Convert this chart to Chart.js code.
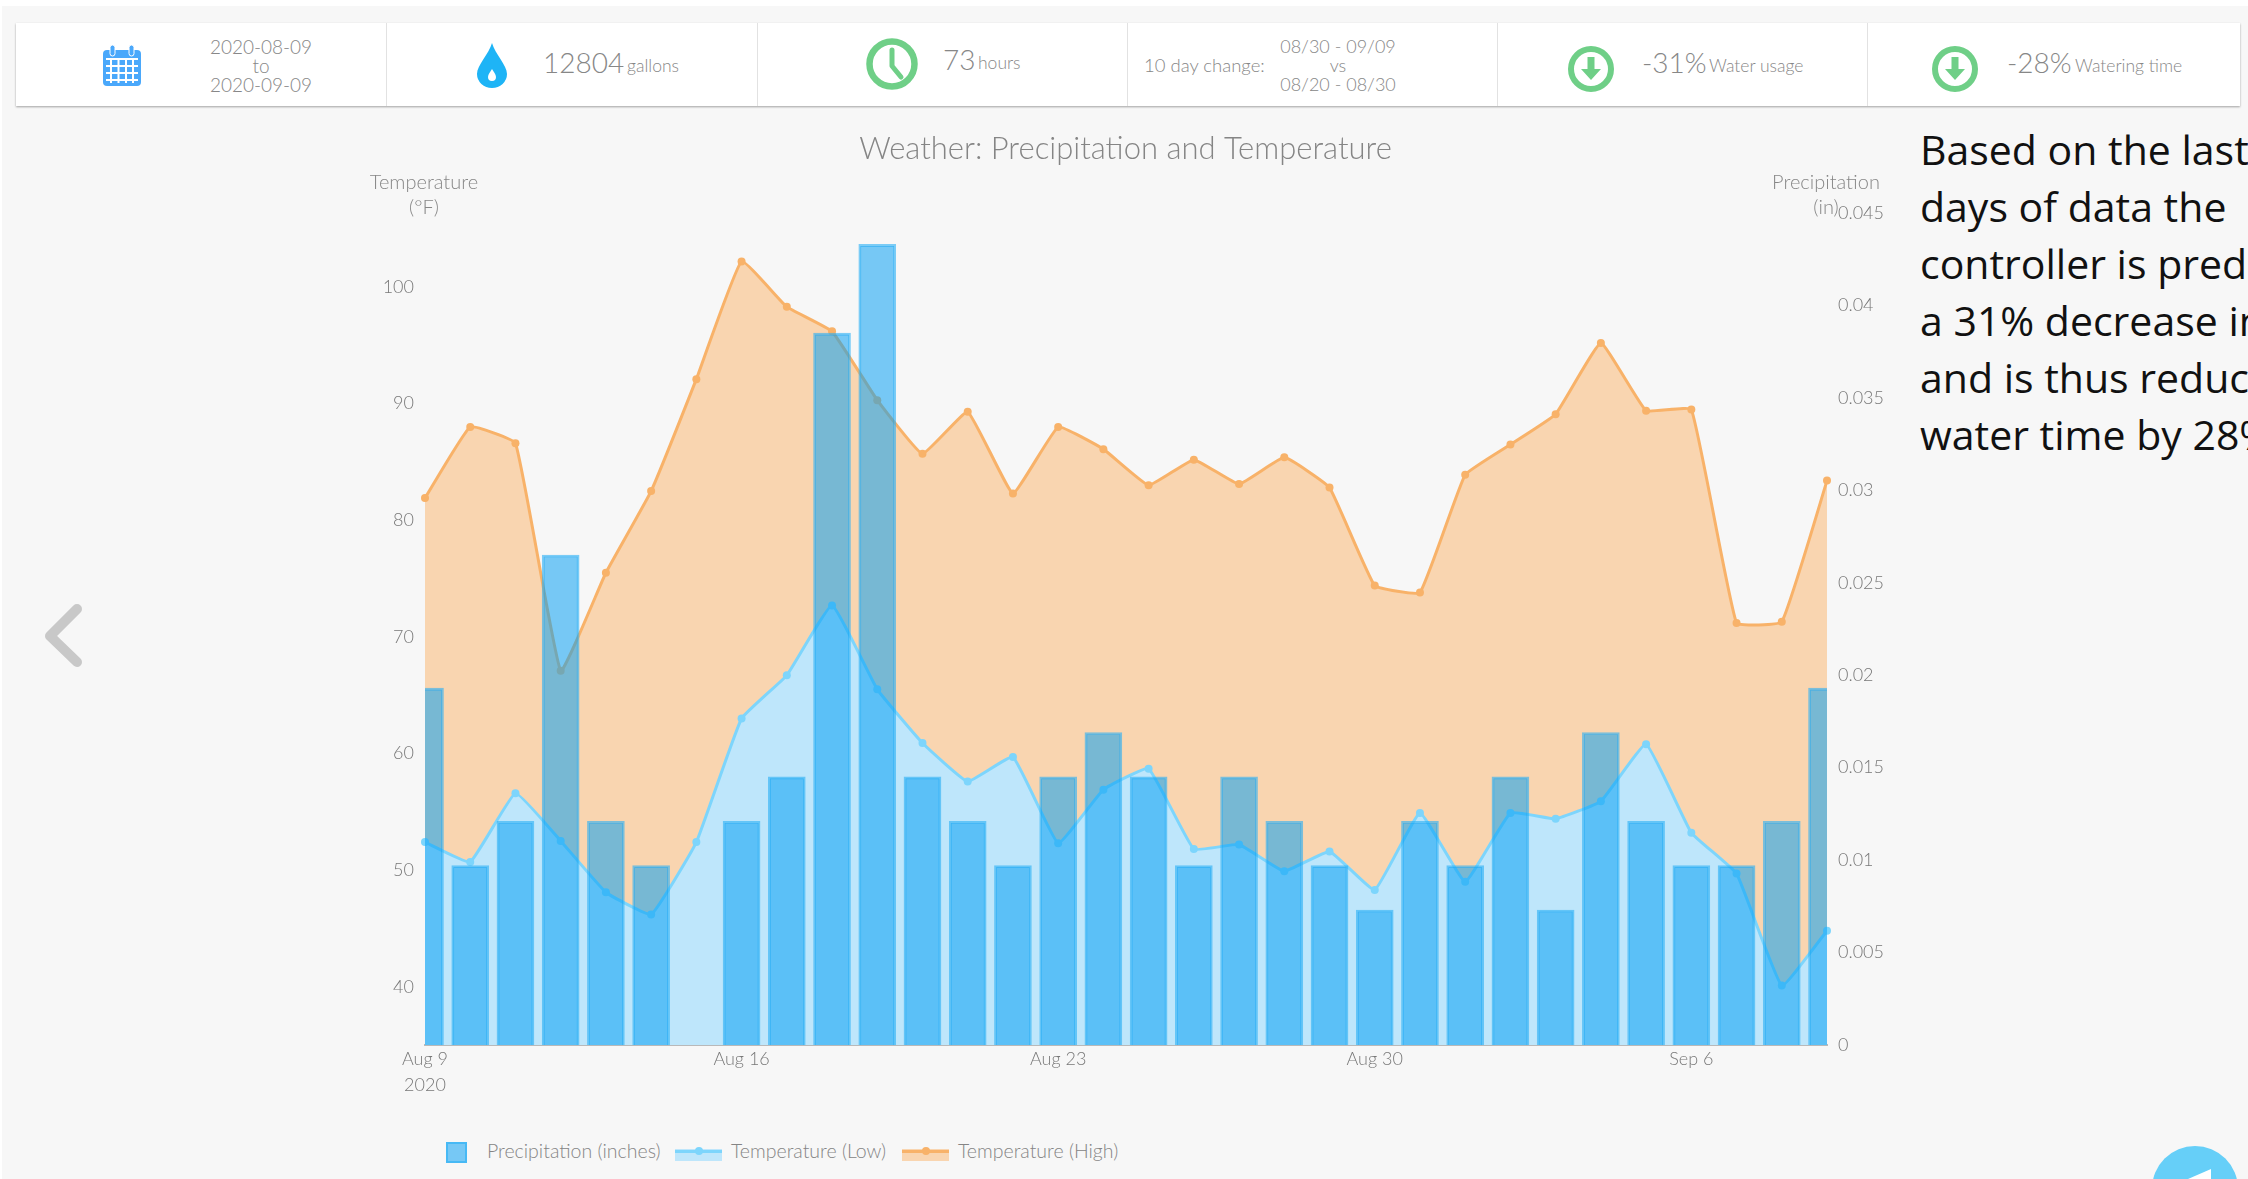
<!DOCTYPE html>
<html>
<head>
<meta charset="utf-8">
<title>Weather: Precipitation and Temperature</title>
<script src="https://cdn.jsdelivr.net/npm/chart.js@4"></script>
<style>
  html, body { margin: 0; padding: 0; background: #fff; overflow: hidden; }
  #page { position: absolute; left: 2px; top: 6px; width: 2246px; height: 1173px; background: #f7f7f7; overflow: hidden; }
  #stage { position: absolute; left: -2px; top: -6px; width: 2248px; height: 1179px; font-family: Lato, sans-serif; color: #878787; font-weight: 300; }
  #stage > * { position: absolute; }
  .card { left: 16px; top: 23px; width: 2224px; height: 83px; background: #fff; box-shadow: 0 1px 2px rgba(0,0,0,.35); }
  .sep { top: 23px; width: 1px; height: 83px; background: #e2e2e2; }
  .t { white-space: nowrap; line-height: 1; transform: translateY(-50%); }
  .c { transform: translate(-50%, -50%); text-align: center; }
  .big { font-size: 28px; }
  .small { font-size: 17.500px; }
  .mid { font-size: 18px; }
  .cap { font-size: 20px; line-height: 25px; text-align: center; white-space: nowrap; transform: translateX(-50%); }
  .note { left: 1920px; font-family: "Open Sans", sans-serif; font-weight: 400; font-size: 41px; line-height: 57px; color: #111; white-space: nowrap; }
  #chart { left: 340px; top: 120px; }
  .lg { font-size: 19.500px; line-height: 1; white-space: nowrap; color: #858585; transform: translateY(-50%); top: 1151px; }
</style>
</head>
<body>
<div id="page"><div id="stage">
  <div class="card"></div>
  <div class="sep" style="left:386px"></div>
  <div class="sep" style="left:757px"></div>
  <div class="sep" style="left:1127px"></div>
  <div class="sep" style="left:1497px"></div>
  <div class="sep" style="left:1867px"></div>

  <svg style="left:102px;top:44px" width="40" height="43" viewBox="0 0 40 43">
    <rect x="1" y="6" width="38" height="36" rx="4" fill="#4aa8fb"/>
    <rect x="8" y="1" width="5" height="11" rx="2.5" fill="#4aa8fb" stroke="#fff" stroke-width="1"/>
    <rect x="27" y="1" width="5" height="11" rx="2.5" fill="#4aa8fb" stroke="#fff" stroke-width="1"/>
    <path d="M4 15h32M4 22h32M4 29h32M4 36h32M9 15v24M16.500 15v24M24 15v24M31 15v24" stroke="#fff" stroke-width="2"/>
  </svg>
  <div class="t c mid" style="left:261px;top:46px;font-size:19px">2020-08-09</div>
  <div class="t c mid" style="left:261px;top:65px;font-size:19px">to</div>
  <div class="t c mid" style="left:261px;top:84px;font-size:19px">2020-09-09</div>

  <svg style="left:476px;top:43px" width="32" height="45" viewBox="0 0 32 45">
    <path d="M16 0C13 11 1 22 1 31a15 14 0 0 0 30 0C31 22 19 11 16 0z" fill="#1eb4f6"/>
    <path d="M16 26c-1.500 3-4 5-4 8a4 4 0 0 0 8 0c0-3-2.500-5-4-8z" fill="#fff"/>
  </svg>
  <div class="t big" style="left:543px;top:62px">12804</div>
  <div class="t small" style="left:627px;top:66px">gallons</div>

  <svg style="left:866px;top:38px" width="52" height="52" viewBox="0 0 52 52">
    <circle cx="26" cy="26" r="22.500" fill="none" stroke="#6fcf87" stroke-width="6.500"/>
    <path d="M26 12v16l9 11" fill="none" stroke="#6fcf87" stroke-width="5" stroke-linecap="round" stroke-linejoin="round"/>
  </svg>
  <div class="t big" style="left:943px;top:59px">73</div>
  <div class="t small" style="left:978px;top:63px">hours</div>

  <div class="t mid" style="left:1144px;top:65px;font-size:18.500px">10 day change:</div>
  <div class="t c mid" style="left:1338px;top:46px">08/30 - 09/09</div>
  <div class="t c mid" style="left:1338px;top:65px">vs</div>
  <div class="t c mid" style="left:1338px;top:84px">08/20 - 08/30</div>

  <svg style="left:1568px;top:46px" width="46" height="46" viewBox="0 0 46 46">
    <circle cx="23" cy="23" r="20" fill="#fff" stroke="#6fcf87" stroke-width="6"/>
    <circle cx="23" cy="23" r="15" fill="#fff"/>
    <path d="M19.500 11h7v12h6.500L23 34 13 23h6.500z" fill="#6fcf87"/>
  </svg>
  <div class="t big" style="left:1642px;top:62px">-31%</div>
  <div class="t small" style="left:1709px;top:66px">Water usage</div>

  <svg style="left:1932px;top:46px" width="46" height="46" viewBox="0 0 46 46">
    <circle cx="23" cy="23" r="20" fill="#fff" stroke="#6fcf87" stroke-width="6"/>
    <path d="M19.500 11h7v12h6.500L23 34 13 23h6.500z" fill="#6fcf87"/>
  </svg>
  <div class="t big" style="left:2007px;top:62px">-28%</div>
  <div class="t small" style="left:2075px;top:66px">Watering time</div>

  <svg style="left:40px;top:600px" width="50" height="72" viewBox="0 0 50 72">
    <path d="M37 9L10 36l27 26" fill="none" stroke="#c8c8c8" stroke-width="10" stroke-linecap="round" stroke-linejoin="round"/>
  </svg>

  <canvas id="chart" width="1571" height="1000"></canvas>

  <div class="cap" style="left:424px;top:169px">Temperature<br>(°F)</div>
  <div class="cap" style="left:1826px;top:169px">Precipitation<br>(in)</div>

  <div class="note" style="top:121px">Based on the last<br>days of data the<br>controller is predicting<br>a 31% decrease in<br>and is thus reducing<br>water time by 28%</div>

  <div id="legend" style="left:0;top:0"></div>

  <svg style="left:2150px;top:1144px" width="98" height="35" viewBox="0 0 98 35">
    <circle cx="45" cy="45" r="43" fill="#66cff8"/>
    <path d="M61 25L38 35h23z" fill="#fff"/>
  </svg>
</div></div>

<script>
const days = ['Aug 9','Aug 10','Aug 11','Aug 12','Aug 13','Aug 14','Aug 15','Aug 16','Aug 17','Aug 18','Aug 19','Aug 20','Aug 21','Aug 22','Aug 23','Aug 24','Aug 25','Aug 26','Aug 27','Aug 28','Aug 29','Aug 30','Aug 31','Sep 1','Sep 2','Sep 3','Sep 4','Sep 5','Sep 6','Sep 7','Sep 8','Sep 9'];
const shownDays = ['Aug 9','Aug 16','Aug 23','Aug 30','Sep 6'];
const precipitation = [0.0193,0.0097,0.0121,0.0265,0.0121,0.0097,0,0.0121,0.0145,0.0385,0.0433,0.0145,0.0121,0.0097,0.0145,0.0169,0.0145,0.0097,0.0145,0.0121,0.0097,0.0073,0.0121,0.0097,0.0145,0.0073,0.0169,0.0121,0.0097,0.0097,0.0121,0.0193];
const tempLow = [52.4,50.7,56.6,52.5,48.1,46.2,52.4,63.0,66.7,72.7,65.5,60.9,57.6,59.7,52.3,56.9,58.7,51.8,52.2,49.9,51.6,48.3,54.9,49.0,54.9,54.4,55.9,60.8,53.2,49.7,40.1,44.8];
const tempHigh = [81.9,88.0,86.6,67.1,75.5,82.5,92.1,102.2,98.3,96.2,90.3,85.7,89.3,82.3,88.0,86.1,83.0,85.2,83.1,85.4,82.8,74.4,73.8,83.9,86.5,89.1,95.2,89.4,89.5,71.2,71.3,83.4];
const tempTicks = [40,50,60,70,80,90,100];
const precipTicks = [0,0.005,0.01,0.015,0.02,0.025,0.03,0.035,0.04,0.045];

const tickColor = '#787878';
const tickFont = { family: 'Lato', size: 18, weight: '300', lineHeight: 1.4 };

const colors = {
  bar: 'rgba(0,158,244,0.52)',
  barBorder: 'rgba(40,175,245,0.6)',
  low: 'rgb(125,213,252)',
  lowFill: 'rgb(190,230,251)',
  high: 'rgb(248,178,105)',
  highFill: 'rgb(249,213,176)'
};

const chart = new Chart(document.getElementById('chart').getContext('2d'), {
  data: {
    labels: days,
    datasets: [
      { type: 'bar', label: 'Precipitation (inches)', data: precipitation, yAxisID: 'precip', order: 1,
        backgroundColor: colors.bar, borderColor: colors.barBorder, borderWidth: 2, barThickness: 37 },
      { type: 'line', label: 'Temperature (Low)', data: tempLow, yAxisID: 'temp', order: 2, fill: 'origin', tension: 0.1,
        backgroundColor: colors.lowFill, borderColor: colors.low, borderWidth: 3, pointRadius: 4, pointBorderWidth: 0, pointBackgroundColor: colors.low },
      { type: 'line', label: 'Temperature (High)', data: tempHigh, yAxisID: 'temp', order: 3, fill: 'origin', tension: 0.1,
        backgroundColor: colors.highFill, borderColor: colors.high, borderWidth: 3, pointRadius: 4, pointBorderWidth: 0, pointBackgroundColor: colors.high }
    ]
  },
  options: {
    responsive: false,
    animation: false,
    plugins: {
      legend: { display: false },
      tooltip: { enabled: false },
      title: {
        display: true,
        text: 'Weather: Precipitation and Temperature',
        color: '#858585',
        font: { family: 'Lato', size: 31, weight: '300', lineHeight: 1.2 },
        padding: { top: 10, bottom: 45.800 }
      }
    },
    scales: {
      x: {
        offset: false,
        grid: { display: false, drawTicks: false },
        border: { color: '#b9b9b9', width: 2 },
        afterFit: scale => { scale.height = 75; },
        ticks: {
          autoSkip: false, maxRotation: 0, padding: 2, color: tickColor, font: tickFont,
          callback: function (value, i) {
            const label = this.getLabelForValue(value);
            if (!shownDays.includes(label)) return '';
            return i === 0 ? [label, '2020'] : label;
          }
        }
      },
      temp: {
        position: 'left', min: 35, max: 106.35,
        grid: { display: false, drawTicks: false },
        border: { display: false },
        afterBuildTicks: scale => { scale.ticks = tempTicks.map(v => ({ value: v })); },
        afterFit: scale => { scale.width = 85; },
        ticks: { padding: 11, color: tickColor, font: tickFont }
      },
      precip: {
        position: 'right', min: 0, max: 0.045,
        grid: { display: false, drawTicks: false },
        border: { display: false },
        afterBuildTicks: scale => { scale.ticks = precipTicks.map(v => ({ value: v })); },
        afterFit: scale => { scale.width = 84; },
        ticks: { padding: 11, color: tickColor, font: tickFont, callback: v => String(v) }
      }
    }
  }
});

// legend built from the chart's own datasets
const legendSpots = [
  { swatch: 446, text: 487 },
  { swatch: 675, text: 731 },
  { swatch: 902, text: 958 }
];
document.getElementById('legend').innerHTML = chart.data.datasets.map((ds, i) => {
  const spot = legendSpots[i];
  const mark = ds.type === 'bar'
    ? `<span style="position:absolute;left:${spot.swatch}px;top:1142px;width:17px;height:17px;background:${colors.bar};border:2px solid ${ds.borderColor}"></span>`
    : `<span style="position:absolute;left:${spot.swatch}px;top:1149px;width:47px;height:12px;background:${ds.backgroundColor}"></span>
       <span style="position:absolute;left:${spot.swatch}px;top:1150px;width:47px;height:3px;background:${ds.borderColor}"></span>
       <span style="position:absolute;left:${spot.swatch + 20}px;top:1147px;width:8px;height:8px;border-radius:50%;background:${ds.borderColor}"></span>`;
  return mark + `<span class="lg" style="position:absolute;left:${spot.text}px">${ds.label}</span>`;
}).join('');
</script>
</body>
</html>
